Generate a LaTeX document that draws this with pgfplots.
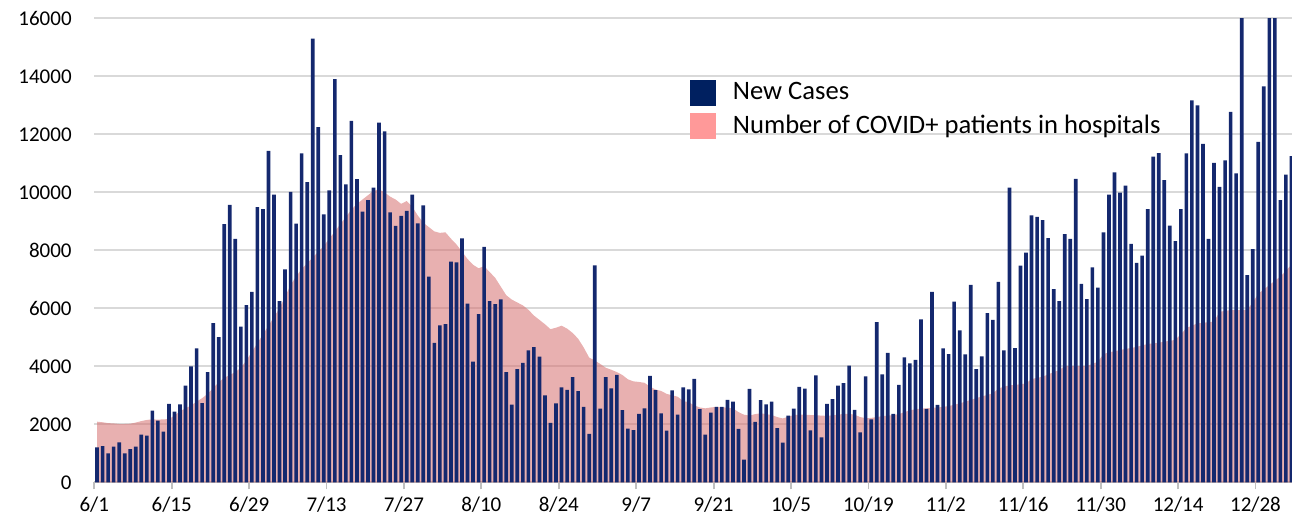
\documentclass[border=0pt]{standalone}
\usepackage{pgfplots}
\pgfplotsset{compat=1.18}
\usepackage{pgfplotstable}
\usepackage{fontspec}
\setmainfont{Carlito}
\definecolor{barnavy}{HTML}{14286E}
\definecolor{legnavy}{HTML}{002060}
\definecolor{legpink}{HTML}{FF9999}
\definecolor{areapink}{RGB}{214,111,111}
\definecolor{gridgray}{HTML}{D9D9D9}
\pgfplotstableread{
d c h
0 1200 2090
1 1250 2070
2 1000 2040
3 1230 2030
4 1380 2010
5 1000 2010
6 1140 2020
7 1230 2060
8 1640 2110
9 1610 2150
10 2470 2170
11 2125 2160
12 1750 2170
13 2700 2180
14 2440 2300
15 2690 2450
16 3330 2550
17 4000 2650
18 4620 2780
19 2730 2900
20 3800 3050
21 5490 3250
22 5010 3450
23 8900 3600
24 9570 3700
25 8390 3800
26 5370 3950
27 6110 4200
28 6570 4500
29 9490 4800
30 9420 5100
31 11430 5400
32 9920 5700
33 6250 6000
34 7340 6400
35 10010 6800
36 8920 7100
37 11340 7350
38 10350 7550
39 15300 7750
40 12250 7950
41 9240 8150
42 10070 8400
43 13900 8650
44 11280 8900
45 10270 9150
46 12460 9400
47 10450 9600
48 9330 9750
49 9730 9900
50 10160 10050
51 12400 10100
52 12100 10000
53 9310 9850
54 8840 9750
55 9190 9600
56 9360 9700
57 9920 9500
58 8930 9200
59 9550 8950
60 7090 8800
61 4810 8650
62 5410 8600
63 5450 8620
64 7610 8400
65 7580 8200
66 8410 7950
67 6160 7700
68 4160 7500
69 5800 7380
70 8120 7450
71 6250 7250
72 6140 7050
73 6310 6750
74 3800 6450
75 2680 6300
76 3900 6200
77 4120 6100
78 4550 5950
79 4660 5750
80 4330 5600
81 3000 5450
82 2050 5280
83 2720 5330
84 3270 5400
85 3190 5300
86 3630 5150
87 3140 4950
88 2600 4650
89 1670 4300
90 7480 4200
91 2540 4080
92 3630 3950
93 3240 3880
94 3700 3800
95 2490 3700
96 1850 3550
97 1800 3480
98 2360 3460
99 2550 3430
100 3670 3300
101 3180 3200
102 2380 3150
103 1780 3050
104 3170 3000
105 2330 2950
106 3270 2800
107 3200 2760
108 3570 2650
109 2520 2580
110 1640 2550
111 2400 2580
112 2600 2600
113 2600 2590
114 2840 2570
115 2780 2550
116 1840 2420
117 780 2330
118 3220 2300
119 2080 2350
120 2830 2380
121 2690 2350
122 2780 2320
123 1870 2250
124 1370 2200
125 2300 2260
126 2540 2320
127 3290 2330
128 3230 2330
129 1790 2320
130 3690 2310
131 1550 2300
132 2700 2290
133 2870 2310
134 3330 2330
135 3420 2360
136 4020 2360
137 2500 2330
138 1720 2250
139 3650 2210
140 2170 2220
141 5520 2250
142 3720 2280
143 4460 2300
144 2360 2320
145 3360 2350
146 4310 2420
147 4100 2480
148 4220 2520
149 5620 2540
150 2530 2550
151 6570 2570
152 2670 2580
153 4620 2600
154 4420 2630
155 6230 2670
156 5240 2720
157 4410 2780
158 6810 2840
159 3900 2900
160 4340 2960
161 5830 3010
162 5600 3070
163 6910 3230
164 4550 3300
165 10160 3340
166 4630 3360
167 7470 3380
168 7920 3410
169 9200 3560
170 9150 3600
171 9040 3640
172 8420 3720
173 6660 3800
174 6250 3870
175 8560 4000
176 8390 4010
177 10460 4010
178 6840 4010
179 6320 4010
180 7410 4080
181 6710 4160
182 8620 4420
183 9920 4480
184 10690 4520
185 9990 4560
186 10230 4600
187 8220 4630
188 7570 4670
189 7820 4720
190 9420 4770
191 11230 4790
192 11350 4810
193 10420 4850
194 8850 4880
195 8320 4910
196 9420 5100
197 11340 5320
198 13170 5400
199 13000 5480
200 11670 5500
201 8390 5520
202 11010 5540
203 10190 5880
204 11100 5910
205 12770 5940
206 10650 5940
207 17000 5940
208 7140 5950
209 8040 6200
210 11740 6500
211 13650 6650
212 17000 6800
213 17000 6950
214 9730 7090
215 10610 7300
216 11250 7500
}\datatable
\begin{document}
\begin{tikzpicture}
\begin{axis}[
  name=ax,
  scale only axis,
  width=598.85pt, height=232pt,
  xmin=0, xmax=216.6,
  ymin=0, ymax=16000,
  axis x line*=bottom,
  axis y line*=left,
  y axis line style={draw=none},
  x axis line style={draw=black!25, line width=0.9pt},
  xtick={0,14,28,42,56,70,84,98,112,126,140,154,168,182,196,210},
  xticklabels={6/1,6/15,6/29,7/13,7/27,8/10,8/24,9/7,9/21,10/5,10/19,11/2,11/16,11/30,12/14,12/28},
  ytick={0,2000,...,16000},
  scaled y ticks=false,
  tick align=outside,
  major tick length=3.5pt,
  x tick style={draw=black!25, line width=0.9pt},
  y tick style={draw=none},
  ymajorgrids,
  grid style={draw=gridgray, line width=0.9pt},
  tick label style={font=\fontsize{10.5}{12}\selectfont, text=black},
  yticklabel style={xshift=-4.3pt, /pgf/number format/.cd, 1000 sep={}, assume math mode=true},
  xticklabel style={yshift=-0.5pt},
  legend style={at={(axis cs:107.6,13930)}, anchor=north west, draw=none, fill=none,
    font=\fontsize{13.3}{15}\selectfont, row sep=2pt, inner sep=0pt},
  legend cell align=left,
  legend image code/.code={\fill[#1] (0pt,-6.5pt) rectangle (13pt,6.5pt); \path (19.6pt,0pt);},
]
\addlegendimage{fill=legnavy, draw=none}
\addlegendentry{New Cases}
\addlegendimage{fill=legpink, draw=none}
\addlegendentry{Number of COVID+ patients in hospitals}
\addplot[draw=none, fill=areapink, fill opacity=0.55, forget plot]
  table[x expr=\thisrow{d}+0.5, y=h] {\datatable} \closedcycle;
\addplot[ybar, bar width=0.66, fill=barnavy, draw=none, forget plot]
  table[x expr=\thisrow{d}+0.5, y=c] {\datatable};
\end{axis}
\pgfresetboundingbox
\path (ax.south west) ++(-47.15pt,-22.85pt) rectangle ++(646pt,264pt);
\end{tikzpicture}
\end{document}
